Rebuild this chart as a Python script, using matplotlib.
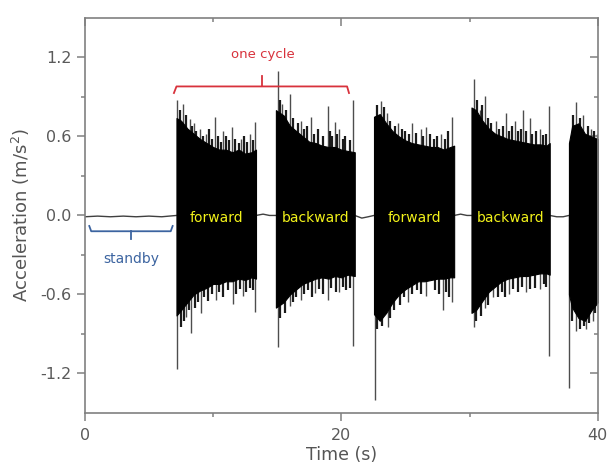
import numpy as np
import matplotlib.pyplot as plt

# acceleration record (time in s, acceleration in m/s^2)
# solid core of each burst: sample times, upper and lower edge
b1_t = [7.15, 7.5, 8.0, 8.5, 9.0, 9.5, 10.0, 10.5, 11.0, 11.5, 12.0, 12.5, 13.0, 13.35]
b1_hi = [0.74, 0.72, 0.66, 0.62, 0.58, 0.55, 0.52, 0.50, 0.50, 0.48, 0.50, 0.47, 0.48, 0.50]
b1_lo = [-0.76, -0.72, -0.66, -0.60, -0.57, -0.55, -0.52, -0.52, -0.50, -0.50, -0.48, -0.49, -0.47, -0.48]

b2_t = [14.9, 15.5, 16.0, 16.5, 17.0, 17.5, 18.0, 18.5, 19.0, 19.5, 20.0, 20.5, 21.05]
b2_hi = [0.80, 0.76, 0.68, 0.64, 0.60, 0.56, 0.55, 0.53, 0.52, 0.52, 0.50, 0.49, 0.48]
b2_lo = [-0.70, -0.66, -0.60, -0.56, -0.52, -0.50, -0.48, -0.47, -0.48, -0.46, -0.47, -0.45, -0.46]

b3_t = [22.55, 23.0, 23.5, 24.0, 24.5, 25.0, 25.5, 26.0, 26.5, 27.0, 27.5, 28.0, 28.5, 28.8]
b3_hi = [0.75, 0.77, 0.70, 0.64, 0.60, 0.57, 0.55, 0.54, 0.53, 0.52, 0.52, 0.50, 0.52, 0.53]
b3_lo = [-0.75, -0.80, -0.74, -0.66, -0.60, -0.56, -0.53, -0.50, -0.50, -0.49, -0.48, -0.48, -0.47, -0.47]

b4_t = [30.15, 30.5, 31.0, 31.5, 32.0, 32.5, 33.0, 33.5, 34.0, 34.5, 35.0, 35.5, 36.0, 36.25]
b4_hi = [0.82, 0.80, 0.72, 0.66, 0.62, 0.60, 0.58, 0.57, 0.56, 0.55, 0.54, 0.54, 0.53, 0.55]
b4_lo = [-0.74, -0.72, -0.65, -0.58, -0.54, -0.50, -0.48, -0.47, -0.46, -0.46, -0.45, -0.44, -0.44, -0.45]

b5_t = [37.75, 38.0, 38.5, 39.0, 39.5, 40.0]
b5_hi = [0.55, 0.68, 0.70, 0.62, 0.60, 0.58]
b5_lo = [-0.60, -0.70, -0.78, -0.80, -0.72, -0.66]

# tall single peaks sticking out of the core
up_t = [7.22, 7.66, 8.18, 8.5, 8.96, 9.48, 10.13, 10.78, 11.5, 12.21, 12.86, 13.3,
        15.05, 15.4, 15.97, 16.86, 17.66, 18.95, 19.48, 19.85, 20.93,
        23.12, 23.55, 24.42, 25.55, 26.2, 26.63, 27.8, 28.6,
        30.32, 30.8, 31.18, 32.09, 32.87, 33.52, 34.17, 34.69, 35.47, 36.19,
        38.32, 38.84, 39.5, 39.9]
up_v = [0.88, 0.85, 0.73, 0.70, 0.66, 0.62, 0.75, 0.64, 0.67, 0.58, 0.62, 0.71,
        1.10, 0.85, 0.92, 0.72, 0.75, 0.83, 0.71, 0.66, 0.88,
        0.87, 0.78, 0.70, 0.70, 0.66, 0.67, 0.62, 0.75,
        1.04, 0.80, 0.91, 0.72, 0.78, 0.72, 0.80, 0.74, 0.66, 0.83,
        0.86, 0.76, 0.66, 0.62]
dn_t = [7.22, 7.92, 8.31, 9.09, 10.26, 11.56, 12.34, 13.25,
        15.05, 15.98, 16.86, 17.93, 18.96, 19.85, 20.93,
        22.6, 22.99, 23.64, 25.2, 26.63, 27.93, 28.6,
        30.32, 31.18, 31.8, 33.1, 34.4, 35.47, 36.19,
        37.78, 38.32, 39.1, 39.6]
dn_v = [-1.17, -0.77, -0.89, -0.74, -0.64, -0.67, -0.61, -0.73,
        -1.00, -0.69, -0.64, -0.59, -0.64, -0.58, -0.99,
        -1.40, -0.79, -0.85, -0.66, -0.61, -0.72, -0.66,
        -0.85, -0.70, -0.62, -0.60, -0.58, -0.56, -1.07,
        -1.31, -0.88, -0.86, -0.80]

# shorter peaks that make the ragged edge of the core
up2_t = [7.4, 7.9, 8.35, 8.7, 9.2, 9.7, 9.95, 10.4, 10.6, 11.0, 11.25, 11.75, 12.0, 12.45, 12.65, 13.1,
         15.2, 15.65, 16.2, 16.6, 17.1, 17.35, 17.9, 18.2, 18.6, 19.1, 19.3, 19.7, 20.1, 20.3, 20.7,
         22.8, 23.3, 23.8, 24.2, 24.7, 25.0, 25.3, 25.8, 26.4, 26.9, 27.2, 27.5, 28.1, 28.35,
         30.55, 31.0, 31.4, 31.7, 32.3, 32.6, 33.1, 33.3, 33.8, 34.0, 34.4, 34.9, 35.2, 35.7, 36.0,
         38.1, 38.6, 39.2, 39.7]
up2_v = [0.80, 0.76, 0.68, 0.64, 0.60, 0.66, 0.58, 0.60, 0.56, 0.60, 0.57, 0.58, 0.55, 0.60, 0.56, 0.57,
         0.88, 0.80, 0.74, 0.70, 0.66, 0.68, 0.62, 0.66, 0.60, 0.64, 0.60, 0.62, 0.58, 0.60, 0.57,
         0.84, 0.82, 0.72, 0.68, 0.66, 0.64, 0.62, 0.63, 0.60, 0.62, 0.58, 0.60, 0.58, 0.64,
         0.88, 0.84, 0.74, 0.70, 0.66, 0.68, 0.64, 0.68, 0.64, 0.66, 0.64, 0.62, 0.64, 0.61, 0.62,
         0.76, 0.74, 0.68, 0.64]
dn2_t = [7.5, 7.75, 8.1, 8.6, 8.85, 9.3, 9.6, 9.9, 10.5, 10.8, 11.2, 11.8, 12.1, 12.6, 12.9, 13.1,
         15.25, 15.6, 16.2, 16.5, 17.1, 17.4, 17.7, 18.3, 18.6, 19.2, 19.6, 20.1, 20.4, 20.7,
         22.8, 23.2, 23.8, 24.1, 24.6, 24.9, 25.5, 25.9, 26.2, 27.3, 27.6, 28.2, 28.4,
         30.5, 30.9, 31.4, 32.2, 32.5, 32.8, 33.4, 33.8, 34.1, 34.7, 35.1, 35.8, 36.0,
         38.0, 38.6, 38.9, 39.3, 39.8]
dn2_v = [-0.85, -0.80, -0.72, -0.70, -0.66, -0.62, -0.65, -0.60, -0.58, -0.62, -0.57, -0.60, -0.56, -0.58, -0.55, -0.57,
         -0.78, -0.74, -0.66, -0.62, -0.60, -0.57, -0.62, -0.56, -0.60, -0.55, -0.58, -0.54, -0.57, -0.55,
         -0.86, -0.84, -0.78, -0.72, -0.68, -0.62, -0.60, -0.57, -0.60, -0.57, -0.60, -0.58, -0.62,
         -0.80, -0.76, -0.68, -0.62, -0.58, -0.62, -0.56, -0.58, -0.54, -0.56, -0.55, -0.52, -0.54,
         -0.80, -0.86, -0.84, -0.82, -0.74]

# quiet signal: standby and pauses between strokes
base_t = [0.0, 1.0, 2.0, 3.0, 4.0, 5.0, 6.0, 7.15, 13.35, 13.9, 14.4, 14.9,
          21.05, 21.6, 22.1, 22.55, 28.8, 29.3, 29.8, 30.15, 36.25, 36.8, 37.3, 37.75]
base_v = [-0.01, -0.005, -0.01, -0.005, -0.01, -0.005, -0.01, 0.0, 0.0, 0.01, 0.0, 0.0,
          0.0, -0.02, -0.01, 0.0, 0.0, 0.01, 0.0, 0.0, 0.0, -0.01, -0.01, 0.0]

phase_t = [10.3, 18.0, 25.7, 33.2]
phase_txt = ['forward', 'backward', 'forward', 'backward']

bursts = [(b1_t, b1_hi, b1_lo), (b2_t, b2_hi, b2_lo), (b3_t, b3_hi, b3_lo),
          (b4_t, b4_hi, b4_lo), (b5_t, b5_hi, b5_lo)]

fig = plt.figure(figsize=(6.1, 4.73), dpi=100)
ax = fig.add_axes([0.139, 0.127, 0.841, 0.835])

ax.plot(base_t, base_v, color='0.25', lw=1.0, zorder=1)
# peaks go under the solid core, so only the part outside the core shows
ax.vlines(up_t, 0, up_v, color='0.3', lw=1.0, zorder=1)
ax.vlines(dn_t, 0, dn_v, color='0.3', lw=1.0, zorder=1)
ax.vlines(up2_t, 0, up2_v, color='0.1', lw=1.6, zorder=1.5)
ax.vlines(dn2_t, 0, dn2_v, color='0.1', lw=1.6, zorder=1.5)
for t, hi, lo in bursts:
    ax.fill_between(t, lo, hi, facecolor='black', edgecolor='black', lw=0.8, zorder=2)

# phase labels
for x, s in zip(phase_t, phase_txt):
    ax.text(x, -0.02, s, color='#f2f21a', fontsize=10, ha='center', va='center', zorder=3)

# one cycle bracket (red)
red = '#d8323c'
ax.plot([6.95, 7.15, 20.45, 20.6], [0.93, 0.98, 0.98, 0.93], color=red, lw=1.3)
ax.plot([13.85, 13.85], [0.98, 1.06], color=red, lw=1.3)
ax.text(13.85, 1.22, 'one cycle', color=red, fontsize=9.5, ha='center', va='center')

# standby bracket (blue)
blue = '#3c64a0'
ax.plot([0.35, 0.5, 6.7, 6.85], [-0.08, -0.12, -0.12, -0.08], color=blue, lw=1.3)
ax.plot([3.6, 3.6], [-0.12, -0.18], color=blue, lw=1.3)
ax.text(3.6, -0.33, 'standby', color=blue, fontsize=10, ha='center', va='center')

ax.set_xlim(0, 40)
ax.set_ylim(-1.5, 1.5)
ax.set_xticks([0, 20, 40])
ax.set_xticks([10, 30], minor=True)
ax.set_yticks([-1.2, -0.6, 0.0, 0.6, 1.2])
ax.set_yticks([-0.9, -0.3, 0.3, 0.9], minor=True)
ax.set_yticklabels(['-1.2', '-0.6', '0.0', '0.6', '1.2'])

for sp in ax.spines.values():
    sp.set_color('#808080')
    sp.set_linewidth(1.2)
ax.tick_params(which='both', colors='#808080', labelcolor='#5a5a5a', labelsize=11.5, width=1.1)
ax.tick_params(which='major', direction='out', length=6)
ax.tick_params(which='minor', direction='out', length=3)
ax.tick_params(axis='x', pad=5)

# mirrored inward ticks on top and right
axt = ax.secondary_xaxis('top')
axt.set_xticks([0, 20, 40])
axt.set_xticks([10, 30], minor=True)
axt.tick_params(which='major', direction='in', length=6, labeltop=False, colors='#808080', width=1.1)
axt.tick_params(which='minor', direction='in', length=3, colors='#808080', width=1.1)
axt.spines['top'].set_visible(False)
axr = ax.secondary_yaxis('right')
axr.set_yticks([-1.2, -0.6, 0.0, 0.6, 1.2])
axr.set_yticks([-0.9, -0.3, 0.3, 0.9], minor=True)
axr.tick_params(which='major', direction='in', length=6, labelright=False, colors='#808080', width=1.1)
axr.tick_params(which='minor', direction='in', length=3, colors='#808080', width=1.1)
axr.spines['right'].set_visible(False)

ax.set_xlabel('Time (s)', fontsize=12.5, color='#555555', labelpad=2)
ax.set_ylabel('Acceleration (m/s$^2$)', fontsize=13, color='#555555', labelpad=6)

fig.savefig('out.png', dpi=100)
